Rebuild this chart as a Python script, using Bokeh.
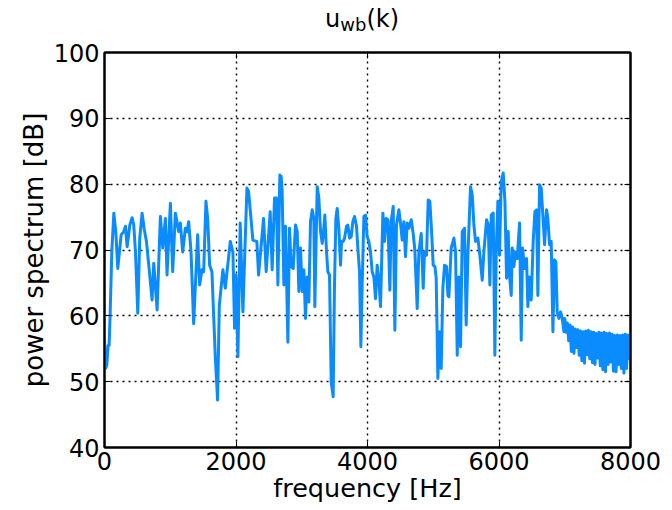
from bokeh.plotting import figure
from bokeh.models import Range1d, LinearAxis, FixedTicker, Div
from bokeh.layouts import column
from bokeh.embed import file_html
from bokeh.resources import INLINE

# ---- data ----
freq_hz = [
    0, 15, 35, 55, 70, 85, 111, 142, 172, 202, 253, 293, 319, 344, 385, 420, 445, 471, 506, 536,
    572, 602, 638, 688, 724, 749, 800, 850, 886, 926, 951, 1002, 1037, 1078, 1128, 1154, 1189, 1230, 1255, 1280,
    1316, 1356, 1417, 1447, 1483, 1508, 1543, 1569, 1599, 1634, 1685, 1720, 1746, 1801, 1837, 1913, 1953, 1978, 1999, 2029,
    2064, 2105, 2166, 2191, 2257, 2317, 2343, 2419, 2459, 2520, 2550, 2586, 2616, 2637, 2667, 2687, 2702, 2728, 2753, 2789,
    2814, 2839, 2870, 2905, 2931, 2956, 2981, 3007, 3032, 3057, 3083, 3108, 3133, 3159, 3184, 3199, 3235, 3260, 3286, 3311,
    3336, 3351, 3377, 3397, 3422, 3448, 3478, 3498, 3519, 3539, 3564, 3590, 3605, 3630, 3651, 3681, 3701, 3727, 3752, 3777,
    3803, 3833, 3853, 3879, 3899, 3919, 3945, 3970, 3995, 4021, 4046, 4071, 4097, 4122, 4147, 4173, 4198, 4234, 4259, 4284,
    4310, 4340, 4360, 4391, 4416, 4441, 4477, 4502, 4528, 4553, 4578, 4604, 4629, 4665, 4695, 4720, 4756, 4781, 4817, 4847,
    4867, 4898, 4923, 4948, 4974, 4999, 5025, 5045, 5070, 5096, 5121, 5146, 5172, 5202, 5223, 5238, 5273, 5314, 5339, 5365,
    5390, 5415, 5441, 5476, 5501, 5527, 5567, 5593, 5618, 5643, 5679, 5709, 5745, 5770, 5811, 5836, 5861, 5882, 5912, 5937,
    5958, 5983, 6008, 6034, 6064, 6090, 6115, 6140, 6160, 6186, 6201, 6226, 6252, 6277, 6313, 6338, 6358, 6389, 6419, 6439,
    6460, 6490, 6520, 6546, 6571, 6591, 6617, 6642, 6673, 6693, 6723, 6743, 6769, 6794, 6820, 6845, 6865, 6885, 6911, 6936,
    6962, 6987,
    7000, 7020, 7040, 7060, 7080, 7100, 7120, 7140, 7160, 7180, 7200, 7220, 7240, 7260, 7280, 7300, 7320, 7340, 7360, 7380,
    7400, 7420, 7440, 7460, 7480, 7500, 7520, 7540, 7560, 7580, 7600, 7620, 7640, 7660, 7680, 7700, 7720, 7740, 7760, 7780,
    7800, 7820, 7840, 7860, 7880, 7900, 7920, 7940, 7960, 7980, 8000,
]
power_db = [
    56.5, 52.0, 52.5, 55.5, 55.5, 60.0, 69.7, 75.6, 72.8, 67.2, 72.3, 72.8, 73.6, 70.5, 73.8, 74.9, 73.8, 69.7, 60.4, 71.8,
    75.6, 73.3, 71.3, 66.2, 62.4, 68.0, 60.9, 75.1, 70.3, 74.8, 66.2, 77.1, 66.7, 75.6, 72.8, 74.1, 69.7, 73.3, 72.8, 74.3,
    69.7, 58.8, 72.3, 64.7, 67.0, 66.7, 77.4, 74.8, 67.7, 66.7, 53.8, 47.2, 61.6, 67.0, 64.2, 71.3, 69.7, 58.1, 66.2, 53.8,
    74.1, 60.6, 79.4, 78.9, 71.5, 71.3, 66.2, 74.8, 66.7, 75.8, 67.0, 77.9, 77.9, 64.7, 81.4, 81.2, 78.9, 64.7, 73.6, 56.0,
    73.3, 67.5, 67.2, 73.8, 72.8, 63.7, 70.3, 63.7, 67.0, 59.6, 65.9, 62.1, 74.3, 76.1, 74.8, 61.4, 79.6, 77.9, 72.8, 71.0,
    73.3, 75.3, 69.7, 66.7, 66.2, 49.9, 47.7, 64.7, 74.8, 76.3, 73.3, 67.7, 71.3, 71.3, 71.8, 73.6, 73.8, 71.8, 72.0, 74.3,
    75.1, 73.6, 70.3, 66.7, 55.3, 64.7, 75.1, 75.3, 72.0, 71.3, 69.7, 66.7, 65.9, 62.6, 67.7, 65.4, 61.4, 75.6, 71.3, 74.8,
    74.6, 63.9, 74.3, 76.6, 57.8, 73.8, 76.1, 74.1, 71.5, 74.3, 69.0, 74.1, 73.3, 74.6, 72.5, 70.0, 61.1, 69.7, 72.5, 64.2,
    69.7, 69.2, 77.6, 77.4, 73.0, 67.7, 67.5, 65.7, 50.5, 57.6, 52.0, 64.2, 67.7, 67.5, 63.1, 62.9, 70.3, 71.8, 69.7, 54.0,
    65.9, 55.3, 72.8, 73.3, 58.6, 69.2, 79.6, 78.4, 73.8, 71.3, 71.8, 69.2, 65.4, 69.7, 74.6, 73.8, 64.7, 75.3, 75.6, 54.0,
    69.7, 77.4, 69.2, 80.4, 81.7, 77.4, 65.7, 72.8, 66.2, 63.1, 70.3, 67.5, 69.7, 68.7, 74.1, 56.3, 70.3, 67.2, 68.7, 61.4,
    65.9, 62.4, 71.3, 75.8, 76.1, 63.1, 79.9, 79.4, 74.3, 70.8, 76.1, 74.8, 70.8, 71.3, 57.6, 68.5, 68.2, 60.6, 59.6, 60.6,
    59.6, 57.6,
    59.6, 57.5, 58.9, 56.2, 58.6, 54.6, 58.3, 54.3, 58.0, 55.2, 57.9, 54.0, 57.7, 53.2, 57.6, 52.8, 57.7, 54.1, 57.8, 53.5,
    57.6, 52.9, 57.5, 52.6, 57.3, 53.6, 57.5, 52.4, 57.4, 51.8, 57.5, 51.5, 57.3, 52.6, 57.4, 53.0, 57.2, 51.6, 57.0, 51.5,
    57.1, 52.6, 57.0, 52.0, 57.1, 51.3, 57.2, 52.0, 57.1, 53.5, 57.3,
]
x_ticks = [0, 2000, 4000, 6000, 8000]
y_ticks = [40, 50, 60, 70, 80, 90, 100]
x_label = "frequency [Hz]"
y_label = "power spectrum [dB]"
title_main = "u"
title_sub = "wb"
title_tail = "(k)"

FONT = "DejaVu Sans"

# title u_wb(k) as real text with a true subscript
title_html = (
    '<div style="font-family:\'DejaVu Sans\',sans-serif; font-size:24px; line-height:24px; '
    'color:black; padding-left:325px; padding-top:7px; white-space:nowrap;">'
    f'{title_main}<sub style="font-size:18px; vertical-align:-4px; line-height:0;">{title_sub}</sub>{title_tail}</div>'
)
title_div = Div(text=title_html, width=672, height=40, margin=(0, 0, 0, 0))

p = figure(frame_width=526, frame_height=395,
           x_range=Range1d(0, 8000), y_range=Range1d(40, 100),
           output_backend="svg", toolbar_location=None,
           min_border_left=104, min_border_right=42, min_border_top=12, min_border_bottom=63,
           background_fill_color="white", border_fill_color="white", margin=(0, 0, 0, 0))
p.title.visible = False
p.outline_line_color = "black"
p.outline_line_width = 2

p.line(freq_hz, power_db, line_color="#0A8CFF", line_width=3, line_join="round")

def style_axis(ax, show_labels=True):
    ax.axis_line_color = "black"
    ax.axis_line_width = 2
    ax.major_tick_in = 6
    ax.major_tick_out = 0
    ax.minor_tick_line_color = None
    ax.major_tick_line_color = "black"
    ax.major_tick_line_width = 1
    ax.major_label_text_font = FONT
    ax.major_label_text_font_size = "24px"
    ax.major_label_text_color = "black"
    ax.axis_label_text_font = FONT
    ax.axis_label_text_font_size = "25.5px"
    ax.axis_label_text_font_style = "normal"
    ax.axis_label_text_color = "black"
    if not show_labels:
        ax.major_label_text_color = None
        ax.major_label_text_font_size = "1px"
        ax.major_label_standoff = 0

p.xaxis.ticker = FixedTicker(ticks=x_ticks)
p.yaxis.ticker = FixedTicker(ticks=y_ticks)
style_axis(p.xaxis[0])
style_axis(p.yaxis[0])
p.xaxis.axis_label = x_label
p.yaxis.axis_label = y_label
p.yaxis.axis_label_text_font_size = "26px"
p.xaxis.major_label_standoff = 4
p.xaxis.axis_label_standoff = 0
p.yaxis.major_label_standoff = 5
p.yaxis.axis_label_standoff = 2

top_ax = LinearAxis(ticker=FixedTicker(ticks=x_ticks))
right_ax = LinearAxis(ticker=FixedTicker(ticks=y_ticks))
style_axis(top_ax, False)
style_axis(right_ax, False)
p.add_layout(top_ax, "above")
p.add_layout(right_ax, "right")

for g in (p.xgrid[0], p.ygrid[0]):
    g.grid_line_color = "black"
    g.grid_line_dash = "2 4"
    g.grid_line_width = 1.4
p.xgrid.ticker = FixedTicker(ticks=x_ticks)
p.ygrid.ticker = FixedTicker(ticks=y_ticks)

layout = column(title_div, p, margin=(0, 0, 0, 0))
open("out.html", "w").write(file_html(layout, INLINE))
